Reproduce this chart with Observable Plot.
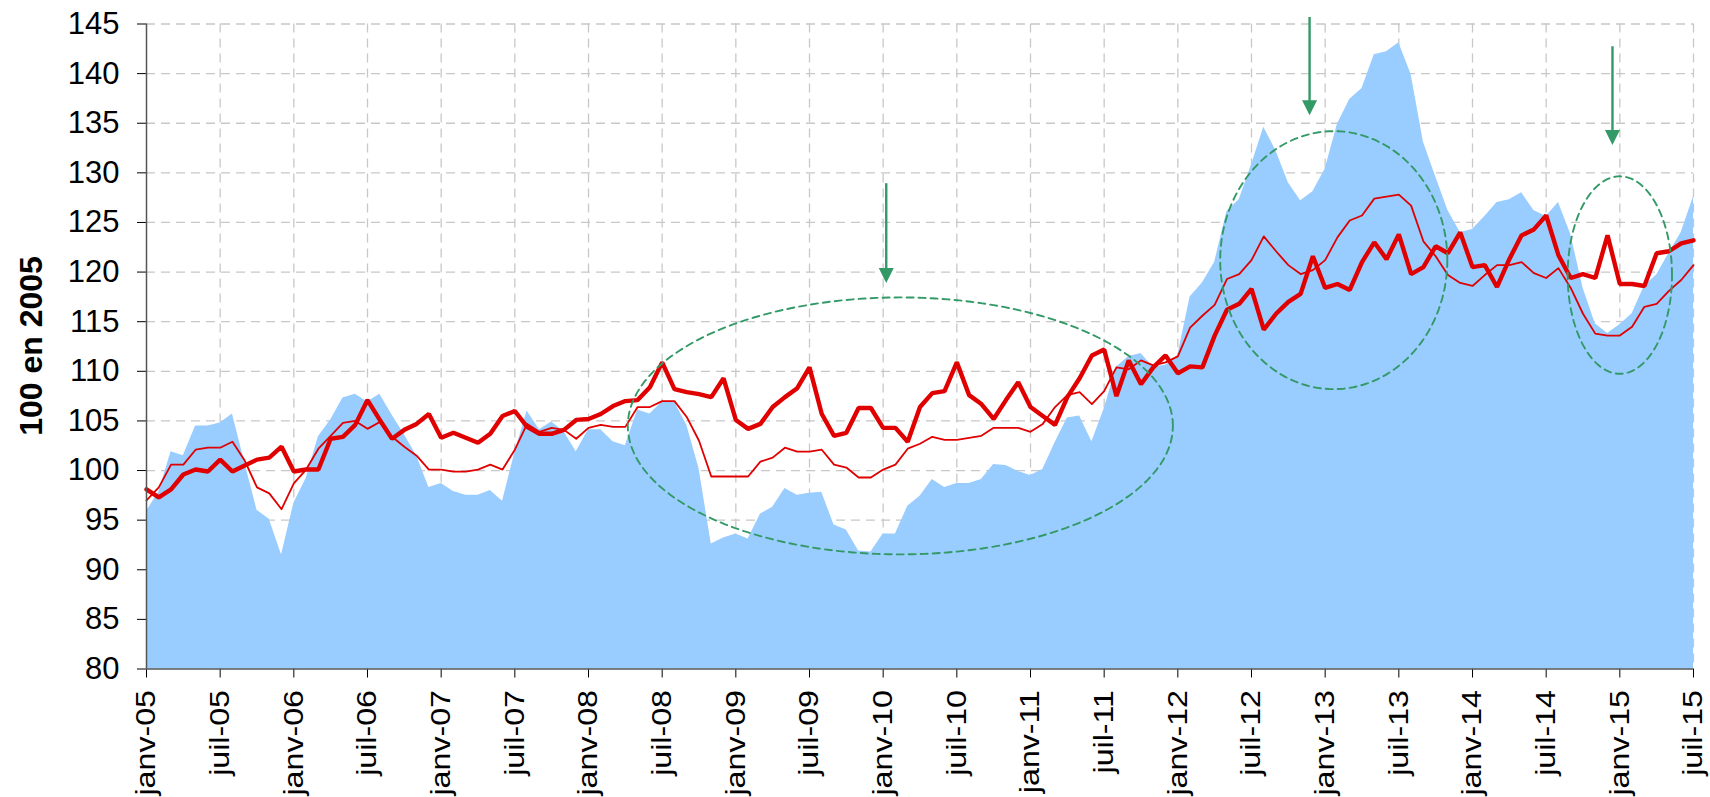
<!DOCTYPE html>
<html><head><meta charset="utf-8">
<script src="https://cdn.jsdelivr.net/npm/d3@7"></script>
<script src="https://cdn.jsdelivr.net/npm/@observablehq/plot@0.6"></script>
<style>
html,body{margin:0;padding:0;background:#fff;}
#chart svg{display:block;}
</style></head><body><div id="chart"></div>
<script>
// Tick labels on the x axis (one every 6 months)
const tickLabels = ["janv-05","juil-05","janv-06","juil-06","janv-07","juil-07","janv-08","juil-08",
  "janv-09","juil-09","janv-10","juil-10","janv-11","juil-11","janv-12","juil-12",
  "janv-13","juil-13","janv-14","juil-14","janv-15","juil-15"];
const yTicks = [80,85,90,95,100,105,110,115,120,125,130,135,140,145];

// Monthly series, janv-05 .. juil-15 (127 months)
const areaValues = [
  95.9, 97.8, 101.9, 101.5, 104.5, 104.5,
  104.8, 105.7, 100.8, 96.0, 95.1, 91.5,
  96.7, 99.2, 103.4, 105.1, 107.3, 107.7,
  106.9, 107.7, 105.6, 103.6, 101.5, 98.3,
  98.7, 97.9, 97.5, 97.5, 98.0, 96.9,
  101.8, 106.0, 104.1, 104.9, 103.9, 101.9,
  104.1, 104.1, 102.9, 102.5, 106.1, 105.7,
  106.9, 106.9, 104.6, 100.2, 92.6, 93.2,
  93.6, 93.1, 95.6, 96.3, 98.2, 97.5,
  97.7, 97.8, 94.5, 94.0, 91.9, 91.8,
  93.6, 93.6, 96.4, 97.4, 99.1, 98.3,
  98.7, 98.7, 99.1, 100.6, 100.5, 99.9,
  99.5, 100.1, 102.8, 105.3, 105.5, 102.9,
  106.2, 110.4, 111.5, 111.8, 110.4, 110.6,
  111.6, 117.5, 118.9, 121.0, 126.1, 127.3,
  130.8, 134.6, 132.2, 129.0, 127.2, 128.1,
  130.4, 134.9, 137.4, 138.5, 141.9, 142.2,
  143.1, 139.9, 133.1, 129.6, 126.2, 124.0,
  124.3, 125.6, 127.0, 127.3, 128.0, 126.2,
  125.6, 127.0, 123.8, 118.4, 114.8, 113.8,
  114.7, 115.8, 118.6, 119.7, 121.9, 124.0,
  127.6];
const thickValues = [
  98.1, 97.3, 98.1, 99.6, 100.1, 99.9,
  101.1, 99.9, 100.5, 101.1, 101.3, 102.4,
  99.9, 100.1, 100.1, 103.2, 103.4, 104.6,
  107.1, 105.1, 103.2, 104.1, 104.7, 105.7,
  103.3, 103.8, 103.3, 102.8, 103.7, 105.5,
  106.0, 104.4, 103.7, 103.7, 104.1, 105.1,
  105.2, 105.7, 106.5, 107.0, 107.1, 108.4,
  110.9, 108.2, 107.9, 107.7, 107.4, 109.3,
  105.1, 104.2, 104.7, 106.4, 107.4, 108.3,
  110.4, 105.7, 103.5, 103.8, 106.3, 106.3,
  104.3, 104.3, 102.9, 106.4, 107.8, 108.0,
  110.9, 107.6, 106.7, 105.2, 107.1, 108.9,
  106.4, 105.5, 104.6, 107.4, 109.3, 111.6,
  112.2, 107.5, 111.1, 108.7, 110.4, 111.6,
  109.8, 110.5, 110.4, 113.6, 116.2, 116.8,
  118.3, 114.2, 115.8, 117.0, 117.8, 121.6,
  118.4, 118.8, 118.2, 121.0, 123.0, 121.3,
  123.8, 119.8, 120.5, 122.6, 121.9, 124.0,
  120.5, 120.7, 118.5, 121.3, 123.7, 124.3,
  125.7, 121.7, 119.4, 119.8, 119.4, 123.7,
  118.8, 118.8, 118.6, 121.9, 122.1, 122.9,
  123.2];
const thinValues = [
  97.0, 98.3, 100.6, 100.6, 102.1, 102.3,
  102.3, 102.9, 101.0, 98.3, 97.7, 96.1,
  98.7, 100.1, 102.2, 103.5, 104.8, 105.0,
  104.2, 104.9, 103.4, 102.4, 101.5, 100.1,
  100.1, 99.9, 99.9, 100.1, 100.6, 100.1,
  102.1, 104.7, 103.9, 104.3, 104.1, 103.2,
  104.3, 104.6, 104.4, 104.4, 106.4, 106.4,
  107.0, 107.0, 105.4, 103.0, 99.4, 99.4,
  99.4, 99.4, 100.9, 101.3, 102.3, 101.9,
  101.9, 102.1, 100.6, 100.3, 99.3, 99.3,
  100.1, 100.6, 102.2, 102.7, 103.4, 103.1,
  103.1, 103.3, 103.5, 104.3, 104.3, 104.3,
  103.9, 104.7, 106.4, 107.6, 107.9, 106.7,
  108.0, 110.4, 110.2, 111.1, 110.6, 110.9,
  111.5, 114.4, 115.6, 116.7, 119.3, 119.8,
  121.2, 123.6, 122.1, 120.7, 119.8, 120.2,
  121.2, 123.5, 125.2, 125.7, 127.4, 127.6,
  127.8, 126.7, 123.1, 121.6, 119.7, 118.9,
  118.6, 119.7, 120.7, 120.7, 121.0, 119.9,
  119.4, 120.4, 118.4, 115.8, 113.8, 113.6,
  113.6, 114.5, 116.5, 116.8, 118.1, 119.2,
  120.7];

// Annotations (month index, value units)
const ellipses = [
  {id: 1, cx: 61.4, cy: 104.5, rx: 22.2, ry: 12.95},
  {id: 2, cx: 96.7, cy: 121.2, rx: 9.25, ry: 13.0},
  {id: 3, cx: 120.0, cy: 119.7, rx: 4.25, ry: 9.95}
];
const arrows = [
  {x: 60.25, top: 128.1, tip: 118.9},
  {x: 94.73, top: 144.85, tip: 135.8},
  {x: 119.4, top: 141.9, tip: 132.8}
];

const data = areaValues.map((v, i) => ({i, area: v, thick: thickValues[i], thin: thinValues[i]}));
const xTickPos = tickLabels.map((_, k) => k * 6);

const ellipsePts = [];
for (const e of ellipses) {
  for (let k = 0; k < 144; k++) {
    const t = (k / 144) * 2 * Math.PI;
    ellipsePts.push({id: e.id, x: e.cx + e.rx * Math.cos(t), y: e.cy + e.ry * Math.sin(t)});
  }
}

const downTriangle = {
  draw(context, size) {
    const r = Math.sqrt(size / Math.PI);
    context.moveTo(-r, -r);
    context.lineTo(r, -r);
    context.lineTo(0, r);
    context.closePath();
  }
};

const green = "#339966";
const red = "#e00000";
const gridColor = "#c8c8c8";

const chart = Plot.plot({
  width: 1710,
  height: 797,
  marginLeft: 146,
  marginRight: 17,
  marginTop: 23.5,
  marginBottom: 128.5,
  style: {fontFamily: "'Liberation Sans', Arial, sans-serif", fontSize: "28px", color: "#000", background: "#fff"},
  x: {domain: [0, 126], ticks: xTickPos, tickFormat: i => tickLabels[Math.round(i / 6)],
      tickRotate: -90, tickSize: 9, tickPadding: 12, label: null},
  y: {domain: [80, 145], ticks: yTicks, tickSize: 9, tickPadding: 18, label: null},
  marks: [
    Plot.ruleY(yTicks.slice(1), {stroke: gridColor, strokeWidth: 1.3, strokeDasharray: "9,6"}),
    Plot.ruleX(xTickPos.slice(1), {stroke: gridColor, strokeWidth: 1.3, strokeDasharray: "9,6"}),
    Plot.areaY(data, {x: "i", y1: () => 80, y2: "area", fill: "#99ccff", fillOpacity: 1}),
    Plot.line(data, {x: "i", y: "thick", stroke: red, strokeWidth: 4.4, strokeLinejoin: "miter"}),
    Plot.line(data, {x: "i", y: "thin", stroke: red, strokeWidth: 1.8}),
    Plot.line(ellipsePts, {x: "x", y: "y", z: "id", curve: "linear-closed", stroke: green, strokeWidth: 1.9, strokeDasharray: "7,5"}),
    Plot.ruleX(arrows, {x: "x", y1: "top", y2: "tip", stroke: green, strokeWidth: 2.4, dy: -8}),
    Plot.dot(arrows, {x: "x", y: "tip", symbol: downTriangle, r: 7.5, fill: green, stroke: null, dy: -7.5}),
    Plot.ruleX([0], {stroke: "#555", strokeWidth: 1.5}),
    Plot.ruleY([80], {stroke: "#555", strokeWidth: 1.5})
  ]
});

const svg = d3.select(chart);
svg.selectAll('[aria-label^="y-axis"] text').style("font-size", "31px");
// x tick labels: stretched along the text direction (anchored at the axis end)
svg.selectAll('[aria-label^="x-axis"] text').each(function() {
  const t = this.getAttribute("transform") || "";
  this.setAttribute("transform", t + " scale(1.15,1)");
});
svg.append("text")
  .attr("transform", "translate(41.5,346) rotate(-90)")
  .attr("text-anchor", "middle")
  .attr("font-family", "'Liberation Sans', Arial, sans-serif")
  .attr("font-weight", "bold")
  .attr("font-size", "32px")
  .attr("fill", "#000")
  .text("100 en 2005");

document.getElementById("chart").appendChild(chart);
</script>
</body></html>
